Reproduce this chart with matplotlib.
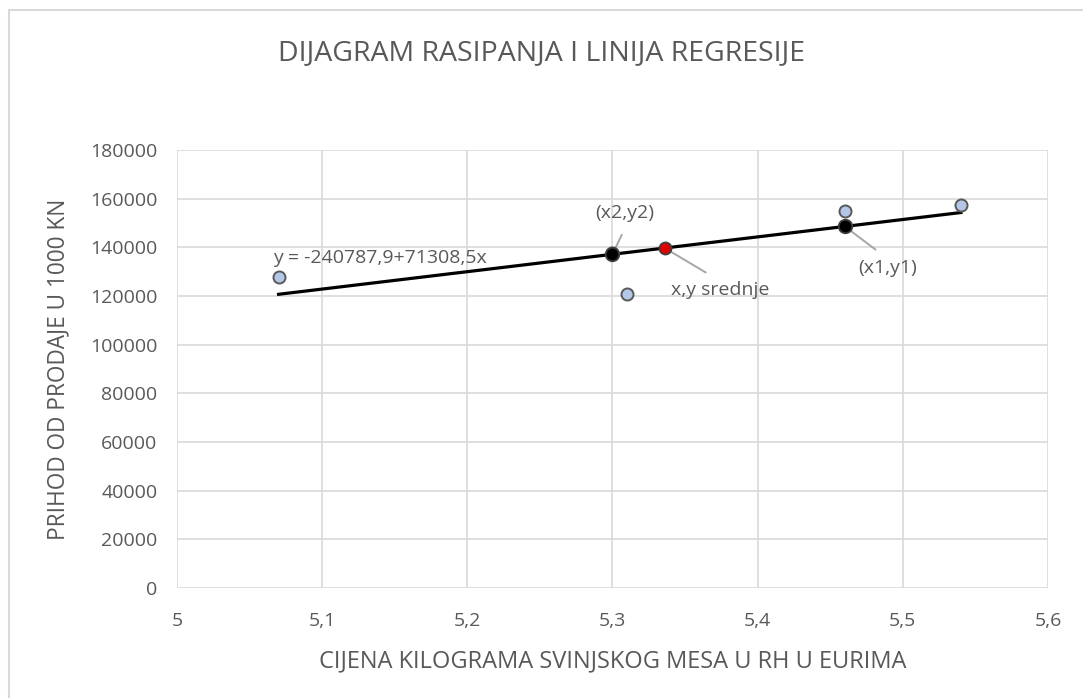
import matplotlib.pyplot as plt
from matplotlib.patches import Rectangle

# data
cijena = [5.07, 5.30, 5.31, 5.46, 5.54]
prihod = [128000, 137500, 121000, 155000, 157400]
line_x = [5.07, 5.54]
line_y = [120700, 154300]
tocke_x = [5.30, 5.46]
tocke_y = [137200, 148600]
sred_x = [5.336]
sred_y = [139700]
x_ticks = [5, 5.1, 5.2, 5.3, 5.4, 5.5, 5.6]
x_labels = ['5', '5,1', '5,2', '5,3', '5,4', '5,5', '5,6']
y_ticks = list(range(0, 180001, 20000))

gray = '#595959'
plt.rcParams['font.family'] = ['Open Sans', 'DejaVu Sans']

fig = plt.figure(figsize=(10.83, 6.98), dpi=100)
ax = fig.add_axes([0.1634, 0.1576, 0.8043, 0.6275])

# chart frame (only left and top edges fall inside the image)
fig.patches.append(Rectangle((8.5 / 1083, -0.05), 1.1, 1.05 - 10 / 698,
                             transform=fig.transFigure, fill=False,
                             edgecolor='#d9d9d9', linewidth=1.5))

ax.plot(line_x, line_y, color='black', linewidth=2.3, zorder=3)
ax.scatter(cijena, prihod, s=75, color='#b4c7e7', edgecolor=gray,
           linewidth=1.4, zorder=4)
ax.scatter(tocke_x, tocke_y, s=95, color='black', edgecolor='#404040',
           linewidth=1.3, zorder=5)
ax.scatter(sred_x, sred_y, s=75, color='#e00000', edgecolor='#404040',
           linewidth=1.3, zorder=5)

ax.set_xlim(5, 5.6)
ax.set_ylim(0, 180000)
ax.set_xticks(x_ticks)
ax.set_xticklabels(x_labels)
ax.set_yticks(y_ticks)
ax.set_yticklabels([str(v) for v in y_ticks])
ax.grid(True, color='#d9d9d9', linewidth=1.2)
ax.set_axisbelow(True)
for s in ax.spines.values():
    s.set_visible(False)
ax.tick_params(length=0, colors=gray, labelsize=14)
ax.tick_params(axis='x', pad=17)
ax.tick_params(axis='y', pad=14)

ax.set_xlabel('CIJENA KILOGRAMA SVINJSKOG MESA U RH U EURIMA',
              color=gray, fontsize=17, va='center')
ax.xaxis.set_label_coords(0.5, -0.1667)
ax.set_ylabel('PRIHOD OD PRODAJE U 1000 KN', color=gray, fontsize=16.3,
              va='center')
ax.yaxis.set_label_coords(-0.1366, 0.5)
fig.text(0.5, 1 - 53 / 698, 'DIJAGRAM RASIPANJA I LINIJA REGRESIJE',
         ha='center', va='center', color=gray, fontsize=20.5)

ax.text(5.0661, 135600, 'y = -240787,9+71308,5x', color=gray, fontsize=14,
        ha='left', va='center')

lead = dict(arrowstyle='-', color='#a6a6a6', linewidth=1.4,
            shrinkA=8, shrinkB=0)
ax.annotate('(x2,y2)', xy=(5.300, 137200), xytext=(5.3086, 154100),
            ha='center', va='center', color=gray, fontsize=14,
            arrowprops=dict(lead, relpos=(0.55, 0.0)))
ax.annotate('x,y srednje', xy=(5.336, 139700), xytext=(5.374, 122500),
            ha='center', va='center', color=gray, fontsize=14,
            arrowprops=dict(lead, relpos=(0.5, 1.0)))
ax.annotate('(x1,y1)', xy=(5.460, 148600), xytext=(5.4898, 131500),
            ha='center', va='center', color=gray, fontsize=14,
            arrowprops=dict(lead, relpos=(0.5, 1.0)))

fig.savefig('out.png', dpi=100, facecolor='white')
